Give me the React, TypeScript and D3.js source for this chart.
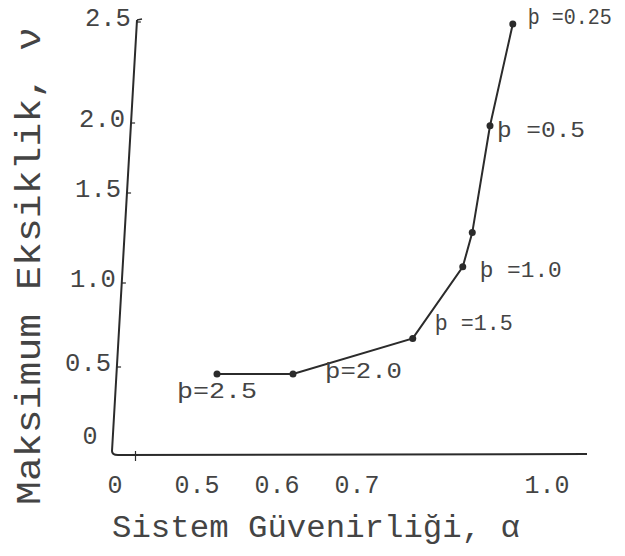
import React from 'react';
import * as d3 from 'd3';

// reliability (alpha) vs maximum deficit (nu) for each p value
const alphaValues = [0.525, 0.62, 0.788, 0.867, 0.882, 0.91, 0.946];
const nuValues = [0.46, 0.46, 0.67, 1.09, 1.28, 1.98, 2.49];
const pLabels = ['þ=2.5', 'þ=2.0', 'þ =1.5', 'þ =1.0', '', 'þ =0.5', 'þ =0.25'];

const xTickValues = [0, 0.5, 0.6, 0.7, 1.0];
const xTickLabels = ['0', '0.5', '0.6', '0.7', '1.0'];
const yTickValues = [0, 0.5, 1.0, 1.5, 2.0, 2.5];
const yTickLabels = ['0', '0.5', '1.0', '1.5', '2.0', '2.5'];

const xTitle = 'Sistem Güvenirliği, α';
const yTitle = 'Maksimum Eksiklik, ν';

const W = 625;
const H = 556;
const INK = '#2b2b2b';
const TEXT = '#444';
const FONT = '"Liberation Mono", "DejaVu Sans Mono", monospace';

// hand-drawn axes: the scale is not uniform, so map piecewise
const x = d3.scaleLinear().domain(xTickValues).range([115, 197, 277, 357, 547]);
const y = d3.scaleLinear().domain(yTickValues).range([455, 367, 283, 193, 123, 22]);

// y axis leans slightly to the right going up
const axisBottom = { x: 112, y: 455 };
const axisTop = { x: 137, y: 20 };
const axisX = (py: number) =>
  axisBottom.x + ((axisBottom.y - py) / (axisBottom.y - axisTop.y)) * (axisTop.x - axisBottom.x);

// label placement relative to each point: [dx, dy, width]
const labelLayout: [number, number, number][] = [
  [-40, 18, 80],
  [32, -2, 77],
  [22, -14, 78],
  [17, 5, 82],
  [0, 0, 0],
  [7, 6, 88],
  [15, -6, 84],
];

export default function App() {
  const pts = alphaValues.map((a, i) => [x(a), y(nuValues[i])] as [number, number]);
  const line = d3.line()(pts) || '';

  return (
    <svg
      width={W}
      height={H}
      style={{ position: 'absolute', left: 0, top: 0, background: '#fff' }}
    >
      {/* axes */}
      <path
        d={`M${axisTop.x},${axisTop.y}L${axisBottom.x},${axisBottom.y - 4}Q${axisBottom.x},${axisBottom.y} ${axisBottom.x + 6},${axisBottom.y}L587,${axisBottom.y - 1}`}
        fill="none"
        stroke={INK}
        strokeWidth={2}
      />
      <line x1={axisTop.x} y1={axisTop.y} x2={axisTop.x + 5} y2={axisTop.y - 1} stroke={INK} strokeWidth={1.5} />
      <line x1={x(0.125)} y1={y(0) - 4} x2={x(0.125)} y2={y(0) + 6} stroke={INK} strokeWidth={1.2} />

      {/* y ticks */}
      {yTickValues.map((v, i) => {
        const py = y(v);
        const ax = axisX(py);
        if (v === 0) {
          return (
            <text key={i} x={90} y={py - 18} fill={TEXT} fontFamily={FONT} fontSize={25}
              textAnchor="middle" dominantBaseline="central">{yTickLabels[i]}</text>
          );
        }
        return (
          <g key={i}>
            <line x1={ax} y1={py} x2={ax + 4} y2={py} stroke={INK} strokeWidth={1.2} />
            <text x={ax - 6} y={py - 3} fill={TEXT} fontFamily={FONT} fontSize={26}
              textAnchor="end" dominantBaseline="central" textLength={46}
              lengthAdjust="spacingAndGlyphs">{yTickLabels[i]}</text>
          </g>
        );
      })}

      {/* x ticks */}
      {xTickValues.map((v, i) => (
        <text key={i} x={x(v)} y={486} fill={TEXT} fontFamily={FONT} fontSize={26}
          textAnchor="middle" dominantBaseline="central"
          textLength={xTickLabels[i].length > 1 ? 45 : 15} lengthAdjust="spacingAndGlyphs">
          {xTickLabels[i]}
        </text>
      ))}

      {/* titles */}
      <text x={112} y={537} fill={TEXT} fontFamily={FONT} fontSize={31}
        textLength={408} lengthAdjust="spacingAndGlyphs">{xTitle}</text>
      <text transform="translate(40,505) rotate(-90)" x={0} y={0} fill={TEXT} fontFamily={FONT}
        fontSize={35} textLength={478} lengthAdjust="spacingAndGlyphs">{yTitle}</text>

      {/* curve */}
      <path d={line} fill="none" stroke={INK} strokeWidth={2} />
      {pts.map(([px, py], i) => (
        <circle key={i} cx={px} cy={py} r={3.5} fill={INK} />
      ))}

      {/* p labels */}
      {pts.map(([px, py], i) => {
        const [dx, dy, w] = labelLayout[i];
        if (!pLabels[i]) return null;
        return (
          <text key={i} x={px + dx} y={py + dy} fill={TEXT} fontFamily={FONT} fontSize={22}
            dominantBaseline="central" textLength={w} lengthAdjust="spacingAndGlyphs">
            {pLabels[i]}
          </text>
        );
      })}
    </svg>
  );
}
